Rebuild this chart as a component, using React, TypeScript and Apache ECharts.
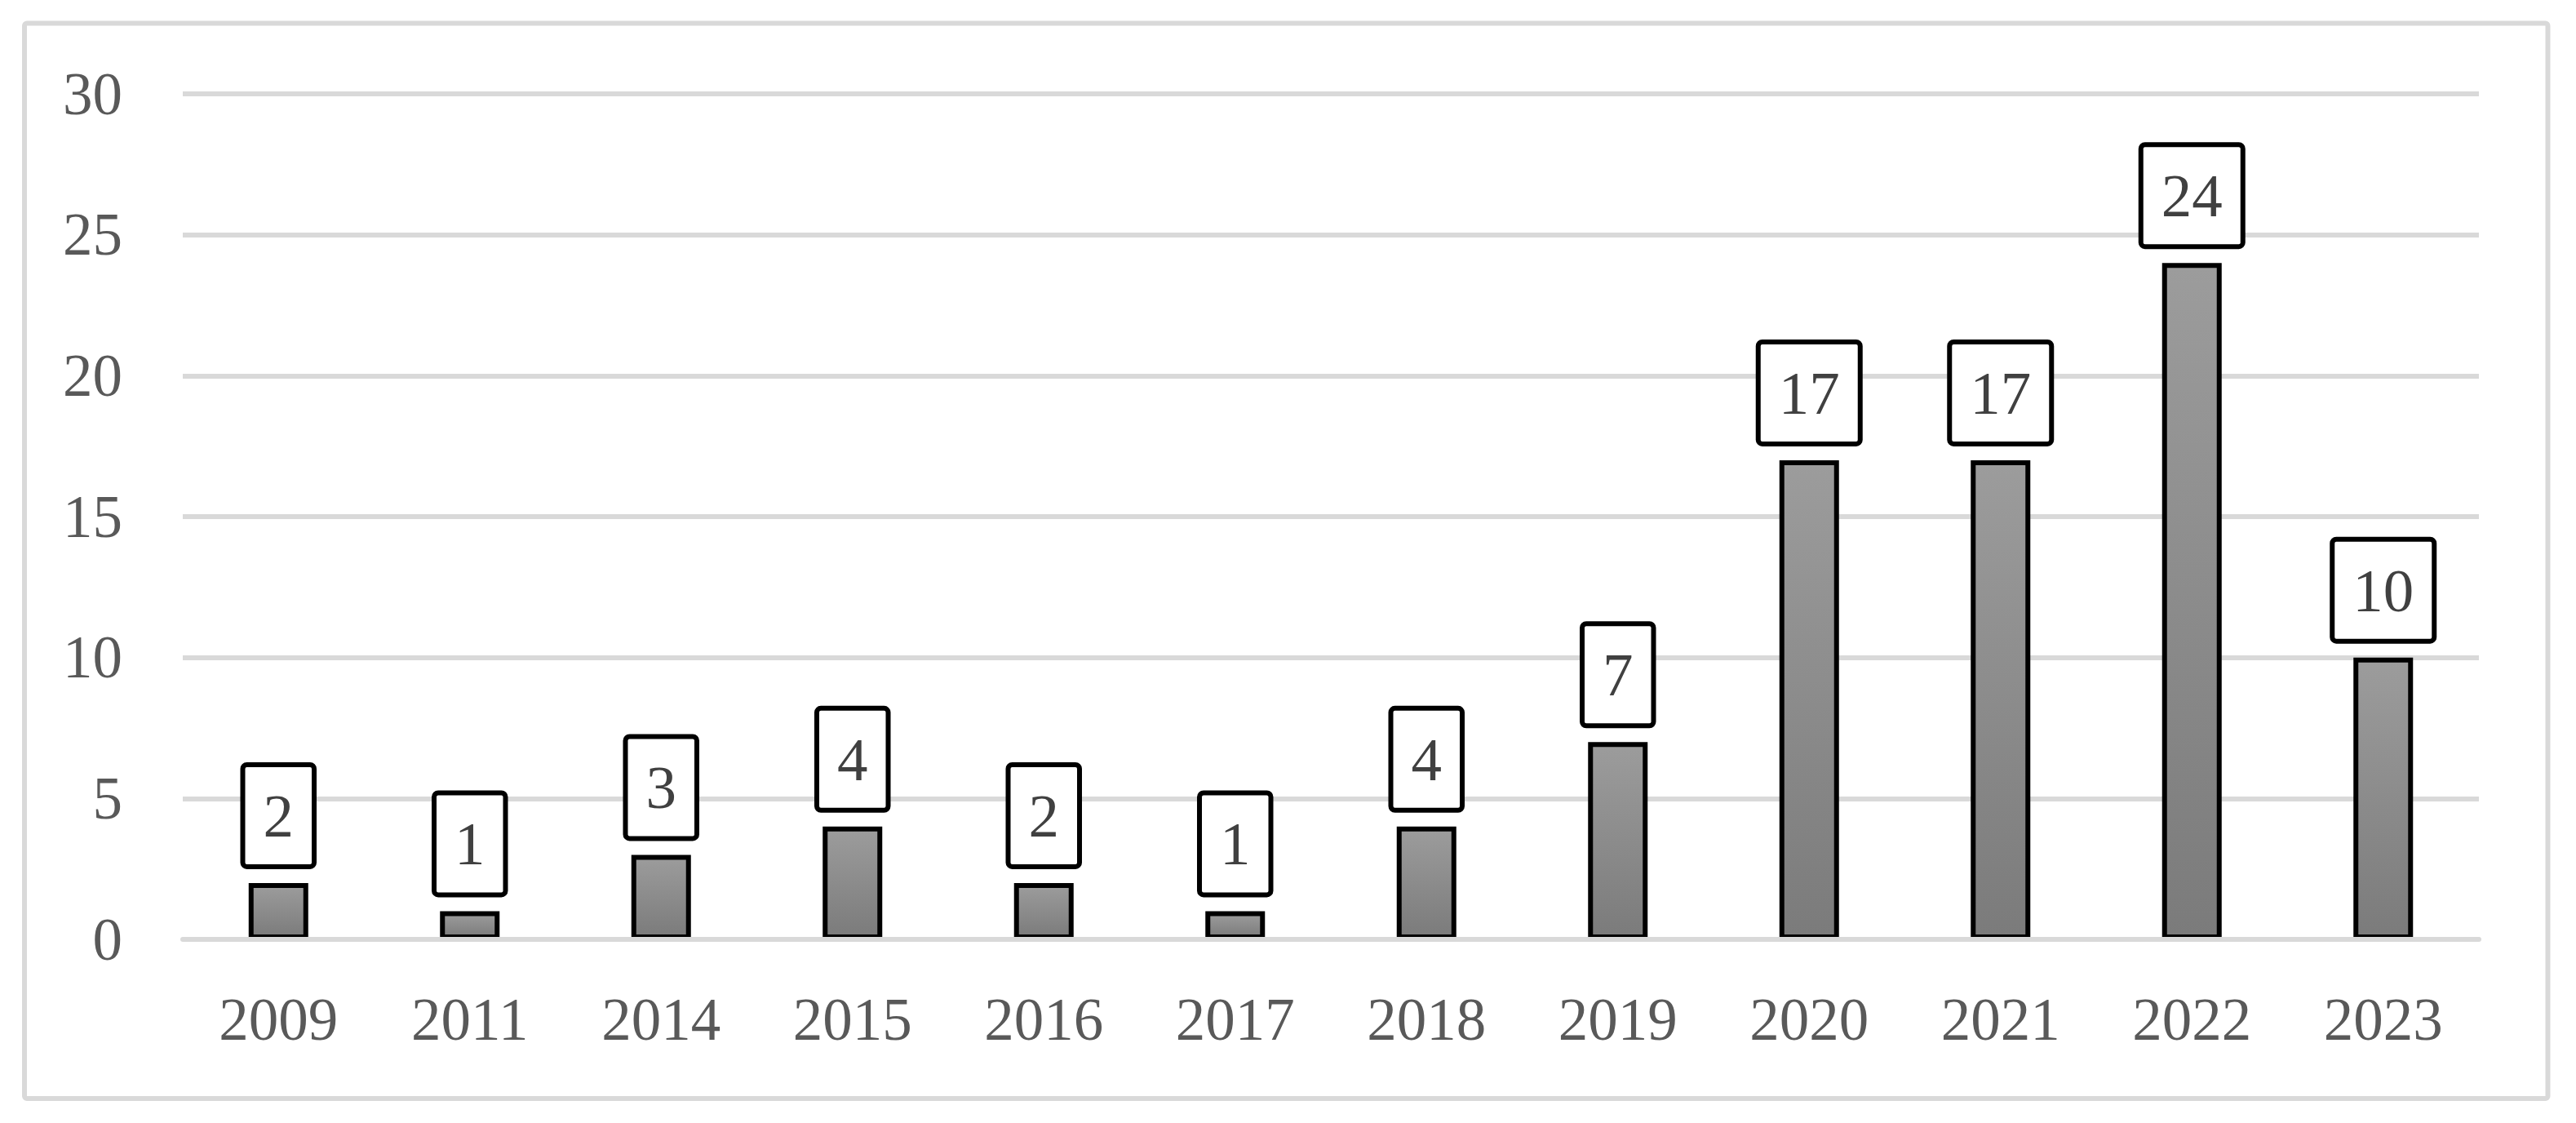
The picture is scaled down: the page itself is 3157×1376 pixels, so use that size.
import React, { useEffect, useRef } from "react";
import * as echarts from "echarts";

const categories = ["2009", "2011", "2014", "2015", "2016", "2017", "2018", "2019", "2020", "2021", "2022", "2023"];
const values = [2, 1, 3, 4, 2, 1, 4, 7, 17, 17, 24, 10];
const yTicks = [0, 5, 10, 15, 20, 25, 30];

const FONT = "'Liberation Serif', 'Times New Roman', serif";

export default function App() {
  const ref = useRef<HTMLDivElement>(null);
  useEffect(() => {
    document.body.style.margin = "0";
    if (!ref.current) return;
    const chart = echarts.init(ref.current, undefined, { renderer: "svg" });
    chart.setOption({
      animation: false,
      backgroundColor: "#ffffff",
      graphic: [
        {
          type: "rect",
          shape: { x: 30, y: 28.5, width: 3092.5, height: 1317.5, r: 3 },
          style: { fill: "none", stroke: "#d9d9d9", lineWidth: 6 },
          z: 0,
        },
      ],
      grid: { left: 224, right: 119, top: 115, bottom: 225, containLabel: false },
      xAxis: {
        type: "category",
        data: categories,
        z: 10,
        axisLine: { show: true, lineStyle: { color: "#d9d9d9", width: 6 } },
        axisTick: { show: false },
        axisLabel: { color: "#595959", fontFamily: FONT, fontSize: 73, margin: 62 },
        splitLine: { show: false },
      },
      yAxis: {
        type: "value",
        min: yTicks[0],
        max: yTicks[yTicks.length - 1],
        interval: 5,
        axisLine: { show: false },
        axisTick: { show: false },
        axisLabel: { color: "#595959", fontFamily: FONT, fontSize: 73, margin: 74 },
        splitLine: { show: true, lineStyle: { color: "#d9d9d9", width: 6 } },
      },
      series: [
        {
          type: "bar",
          data: values,
          barWidth: 73,
          itemStyle: {
            color: new echarts.graphic.LinearGradient(0, 0, 0, 1, [
              { offset: 0, color: "#9c9c9c" },
              { offset: 1, color: "#7b7b7b" },
            ]),
            borderColor: "#000000",
            borderWidth: 6,
          },
          label: {
            show: true,
            position: "top",
            distance: 23,
            color: "#404040",
            fontFamily: FONT,
            fontSize: 75,
            lineHeight: 75,
            backgroundColor: "#ffffff",
            borderColor: "#000000",
            borderWidth: 6,
            borderRadius: 2,
            padding: [22, 22, 22, 22],
          },
        },
      ],
    });
    return () => chart.dispose();
  }, []);
  return <div ref={ref} style={{ width: 3157, height: 1376 }} />;
}
